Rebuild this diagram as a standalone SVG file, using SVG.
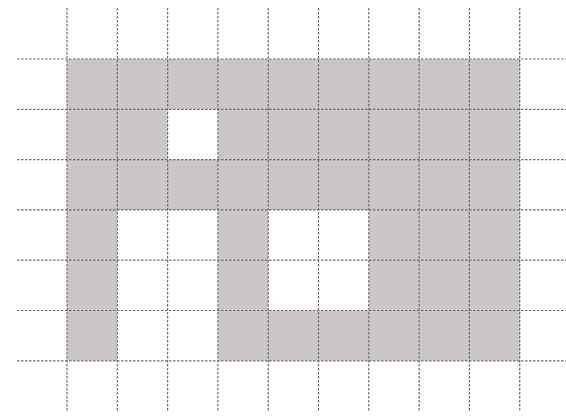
<svg xmlns="http://www.w3.org/2000/svg" width="566" height="417" viewBox="0 0 566 417">
<style>
.cell{fill:#cbc6c7;stroke:none}
.grid line{stroke:#6e6e6e;stroke-width:1.2;stroke-dasharray:2.5 1.5}
</style>
<rect width="566" height="417" fill="#ffffff"/>
<g id="cells">
<path class="cell" d="M67 59H520V210H67Z M67 210H117.3V360.8H67Z M217.9 210H268.2V360.8H217.9Z M268.2 310.5H368.8V360.8H268.2Z M368.8 210H520V360.8H368.8Z"/>
<rect x="167.6" y="109.3" width="50.3" height="50.3" fill="#ffffff"/>
</g>
<g id="connectors" class="grid">
<line x1="67" y1="8" x2="67" y2="412"/>
<line x1="117.3" y1="8" x2="117.3" y2="412"/>
<line x1="167.6" y1="8" x2="167.6" y2="412"/>
<line x1="217.9" y1="8" x2="217.9" y2="412"/>
<line x1="268.2" y1="8" x2="268.2" y2="412"/>
<line x1="318.5" y1="8" x2="318.5" y2="412"/>
<line x1="368.8" y1="8" x2="368.8" y2="412"/>
<line x1="419.1" y1="8" x2="419.1" y2="412"/>
<line x1="469.4" y1="8" x2="469.4" y2="412"/>
<line x1="519.7" y1="8" x2="519.7" y2="412"/>
<line x1="17" y1="59" x2="566" y2="59"/>
<line x1="17" y1="109.3" x2="566" y2="109.3"/>
<line x1="17" y1="159.6" x2="566" y2="159.6"/>
<line x1="17" y1="209.9" x2="566" y2="209.9"/>
<line x1="17" y1="260.2" x2="566" y2="260.2"/>
<line x1="17" y1="310.5" x2="566" y2="310.5"/>
<line x1="17" y1="360.8" x2="566" y2="360.8"/>
</g>
</svg>
